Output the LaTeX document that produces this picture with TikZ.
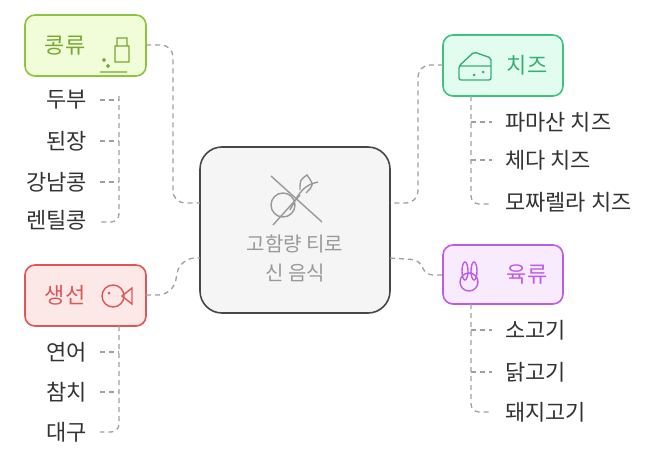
\documentclass[tikz,border=0pt]{standalone}
\usepackage{fontspec}
\setmainfont{Noto Sans CJK KR}
\begin{document}
\begin{tikzpicture}[x=1pt,y=-1pt,
  box/.style={rounded corners=10pt,line width=1.6pt},
  conn/.style={draw=gray!75,line width=1.3pt,dash pattern=on 5pt off 4pt,rounded corners=12pt},
  item/.style={font=\fontsize{22}{24}\selectfont,text=black!80,inner sep=0pt},
  head/.style={font=\fontsize{22}{24}\selectfont,inner sep=0pt}]
\useasboundingbox (0,0) rectangle (660,471);
\definecolor{gB}{HTML}{8DC43C}\definecolor{gF}{HTML}{F1FDD9}
\definecolor{cB}{HTML}{3CC47F}\definecolor{cF}{HTML}{E2FDF0}
\definecolor{rB}{HTML}{E05555}\definecolor{rF}{HTML}{FDE8E8}
\definecolor{pB}{HTML}{BE5CEA}\definecolor{pF}{HTML}{F9EBFE}
% center
\draw[box,rounded corners=22pt,draw=black!72,fill=black!4] (200,147) rectangle (390,313);
\coordinate (cl1) at (200,203);\coordinate (cl2) at (200,258);
\coordinate (cr1) at (390,203);\coordinate (cr2) at (390,258);
\node[text=black!40,align=center,font=\fontsize{20}{29}\selectfont] (ct) at (295,258) {고함량 티로\\신 음식};
% center icon
\begin{scope}[draw=black!40,line width=1.4pt]
\draw (271,176)--(322,222);
\draw (283,205) circle (12);
\draw (290,210) .. controls (300,190) and (305,185) .. (318,182);
\draw (300,190) .. controls (300,180) .. (307,175) .. controls (314,185) .. (306,193);
\draw (273,225) -- (300,195);
\end{scope}
% boxes
\draw[box,draw=gB,fill=gF] (25,15) rectangle (146,76);
\node[head,text=gB!85!black] (kong) at (65,46) {콩류};
\draw[gB!85!black,line width=1.4pt] (115,46) rectangle (129,62) (117,38) rectangle (127,46) (100,72)--(127,72) (104,60) circle (1.2) (108,66) circle(1.2);
\draw[box,draw=cB,fill=cF] (443,35) rectangle (563,96);
\node[head,text=cB!90!black] (chz) at (527,65) {치즈};
\draw[cB!90!black,line width=1.4pt,rounded corners=2pt] (459,80)--(459,66)--(474,52)--(491,58)--(491,80)--cycle (459,66)--(491,66);
\fill[cB!90!black] (474,75) circle (1.5) (483,72) circle (1.5);
\draw[box,draw=rB,fill=rF] (25,265) rectangle (146,326);
\node[head,text=rB] (fish) at (65,295) {생선};
\draw[rB,line width=1.4pt] (113,296) ellipse (11 and 11) (122,296)--(132,288)--(132,304)--cycle;
\fill[rB] (109,293) circle (1.5);
\draw[box,draw=pB,fill=pF] (443,245) rectangle (563,304);
\node[head,text=pB] (meat) at (527,274) {육류};
\draw[pB,line width=1.4pt] (469,282) circle (9) (465,271) ellipse (3 and 9) (474,271) ellipse (3 and 9);
% connectors
\coordinate (kr) at (146,45);\coordinate (fr) at (146,295);
\coordinate (chl) at (443,65);\coordinate (ml) at (443,275);
\draw[conn] (kr) -- (173,45) -- (173,203) -- (cl1);
\draw[conn,rounded corners=15pt] (fr) -- (173,295) -- (180,258) -- (cl2);
\draw[conn] (chl) -- (418,65) -- (418,203) -- (cr1);
\draw[conn,rounded corners=8pt] (cr2) -- (420,260) -- (425,275) -- (ml);
% leaves left
\foreach \n/\t/\y in {a/두부/100,b/된장/141,c/강남콩/182,d/렌틸콩/220}
  \node[item,anchor=east] (k\n) at (87,\y) {\t};
\draw[conn,rounded corners=8pt] (119,96) -- (119,222) -- (100,222);
\draw[conn] (100,100)--(119,100) (100,141)--(119,141) (100,182)--(119,182);
\foreach \n/\t/\y in {a/연어/352,b/참치/392,c/대구/432}
  \node[item,anchor=east] (f\n) at (87,\y) {\t};
\draw[conn,rounded corners=8pt] (119,326) -- (119,432) -- (100,432);
\draw[conn] (100,352)--(119,352) (100,392)--(119,392);
\foreach \n/\t/\y in {a/파마산 치즈/122,b/체다 치즈/160,c/모짜렐라 치즈/202}
  \node[item,anchor=west] (h\n) at (505,\y) {\t};
\draw[conn,rounded corners=8pt] (471,96) -- (471,204) -- (492,204);
\draw[conn] (471,122)--(492,122) (471,160)--(492,160);
\foreach \n/\t/\y in {a/소고기/330,b/닭고기/372,c/돼지고기/412}
  \node[item,anchor=west] (m\n) at (505,\y) {\t};
\draw[conn,rounded corners=8pt] (471,304) -- (471,412) -- (492,412);
\draw[conn] (471,330)--(492,330) (471,372)--(492,372);
\end{tikzpicture}
\end{document}
